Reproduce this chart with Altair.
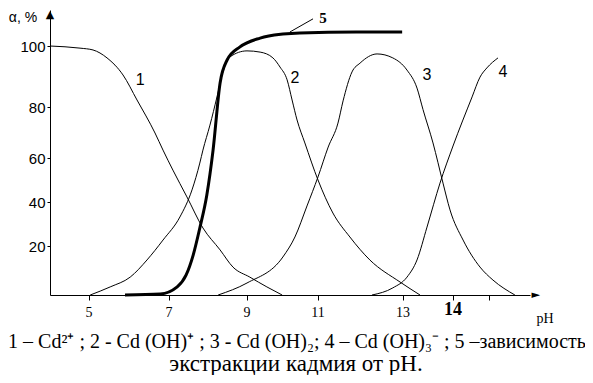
import altair as alt
import pandas as pd

# ---- data (pH, alpha %) ----
c1_x = [4.0, 4.77, 5.1, 5.45, 5.85, 6.2, 6.65, 6.85, 7.1, 7.46, 7.87, 8.31, 8.64, 9.08, 9.56, 9.99]
c1_y = [100, 99.3, 98.7, 96.1, 90.5, 82.3, 69.8, 63.1, 54.5, 42.3, 28.2, 18.4, 11.4, 7.3, 3.3, 0]

c2_x = [5.03, 5.53, 6.03, 6.45, 6.85, 7.28, 7.59, 7.79, 7.87, 8.05, 8.23, 8.36, 8.56, 9.0, 9.37,
        9.73, 9.93, 10.13, 10.27, 10.41, 10.63, 11.0, 11.35, 11.75, 12.22, 12.93, 13.34]
c2_y = [0, 3.3, 7.3, 14.3, 22.7, 33.2, 45.5, 57.7, 63.1, 72.9, 83.3, 90.5, 96.4, 98.4, 98.0,
        96.1, 93.1, 88.9, 82.3, 74.9, 65.9, 50, 35, 24.1, 14.3, 5.3, 0]

c3_x = [8.26, 9.0, 10.01, 10.35, 10.69, 11.0, 11.24, 11.47, 11.59, 11.8, 11.99, 12.39, 12.76, 13.08,
        13.28, 13.4, 13.6, 13.8, 13.94, 14.28, 14.75, 15.11, 15.72]
c3_y = [0, 4.9, 15.5, 24.1, 38.2, 51.4, 64.3, 73.7, 82.0, 91.5, 94.4, 97.4, 96.1, 92.1,
        86.2, 79.0, 65.9, 48.6, 36.4, 22.7, 11.4, 6.1, 0]

c4_x = [12.27, 12.76, 13.08, 13.28, 13.48, 13.74, 14.0, 14.53, 14.75, 14.94, 15.25]
c4_y = [0, 2.9, 7.3, 14.3, 28.6, 48.6, 64.7, 83.3, 89.8, 92.8, 96.1]

c5_x = [5.9, 6.78, 7.21, 7.44, 7.62, 7.79, 7.97, 8.13, 8.31, 8.49, 8.82, 9.37, 10.01, 10.49, 11.9, 12.98]
c5_y = [0, 0.4, 3.3, 8.2, 16.3, 28.2, 43.2, 63.1, 87.9, 95.4, 99.7, 102.6, 103.9, 104.3, 104.6, 104.6]

label_text = ["1", "2", "3", "4"]
label_x = [6.28, 10.35, 13.48, 15.39]
label_y = [88.9, 89.5, 90.5, 91.5]

x_ticks = [5, 7, 9, 11, 13, 14, 15]
x_tick_labels = ["5", "7", "9", "11", "13"]
x_tick_label_pos = [5, 7, 9, 11, 13]
y_ticks = [20, 40, 60, 80, 100]

# hand-drawn (irregular) axis scales
x_domain = [4, 5, 7, 9, 11, 13, 14, 15, 16.14]
x_range = [0, 39, 119, 197, 268, 353, 403, 439, 480]
y_domain = [0, 20, 40, 60, 80, 100, 111.8]
y_range = [285, 236, 192, 148, 97, 36, 0]

caption1 = "1 – Cd²⁺ ; 2 - Cd (OH)⁺ ; 3 - Cd (OH)₂; 4 – Cd (OH)₃⁻ ; 5 –зависимость"
caption2 = "экстракции кадмия от pH."

rows = []
for name, xs, ys in [("1", c1_x, c1_y), ("2", c2_x, c2_y), ("3", c3_x, c3_y),
                     ("4", c4_x, c4_y), ("5", c5_x, c5_y)]:
    for a, b in zip(xs, ys):
        rows.append({"series": name, "pH": a, "alpha": b})
df = pd.DataFrame(rows)
labels = pd.DataFrame({"t": label_text, "pH": label_x, "alpha": label_y})
lab5 = pd.DataFrame({"t": ["5"], "pH": [11.12], "alpha": [109.3]})
leader = pd.DataFrame({"pH": [10.21], "alpha": [104.6], "pH2": [10.86], "alpha2": [108.9]})
arrows_x = pd.DataFrame({"t": ["►"], "pH": [16.3], "alpha": [0]})
arrows_y = pd.DataFrame({"t": ["▲"], "pH": [4.0], "alpha": [110.3]})
# tick-label rows sit just below the axis (alpha slightly below zero)
xl = pd.DataFrame({"lbl": x_tick_labels, "pos": x_tick_label_pos,
                   "lvl": [-7.4] * len(x_tick_labels)})
xl14 = pd.DataFrame({"lbl": ["14"], "pos": [14], "lvl": [-6.3]})
one = pd.DataFrame({"a": [0]})

xs = alt.Scale(domain=x_domain, range=x_range, nice=False, zero=False)
ys = alt.Scale(domain=y_domain, range=y_range, nice=False, zero=False)

x_axis = alt.Axis(
    values=x_ticks, labels=False, title=None, grid=False,
    domainColor="black", tickColor="black", tickSize=5, domainWidth=1, tickWidth=1,
)
y_axis = alt.Axis(
    values=y_ticks, title=None, grid=False, domainColor="black", tickColor="black",
    tickSize=3, domainWidth=1, tickWidth=1, labelColor="black", labelFont="Liberation Sans",
    labelFontSize=15, labelPadding=2, labelFlush=False, labelOverlap=False,
)

X = alt.X("pH:Q", scale=xs, axis=x_axis)
Y = alt.Y("alpha:Q", scale=ys, axis=y_axis)
Xn = alt.X("pH:Q", scale=xs)
Yn = alt.Y("alpha:Q", scale=ys)
Xp = alt.X("pos:Q", scale=xs)
Yl = alt.Y("lvl:Q", scale=ys)

thin = alt.Chart(df).transform_filter("datum.series != '5'").mark_line(
    color="black", strokeWidth=1, interpolate="monotone"
).encode(x=X, y=Y, detail="series:N")

thick = alt.Chart(df).transform_filter("datum.series == '5'").mark_line(
    color="black", strokeWidth=3, interpolate="monotone"
).encode(x=X, y=Y)

num_labels = alt.Chart(labels).mark_text(
    font="Liberation Sans", fontSize=16, color="black"
).encode(x=Xn, y=Yn, text="t:N")

five = alt.Chart(lab5).mark_text(
    font="Liberation Serif", fontSize=15, fontWeight="bold", color="black"
).encode(x=Xn, y=Yn, text="t:N")

lead = alt.Chart(leader).mark_rule(color="black", strokeWidth=1).encode(
    x=Xn, y=Yn, x2="pH2:Q", y2="alpha2:Q"
)

arrow_x = alt.Chart(arrows_x).mark_text(font="DejaVu Sans", fontSize=11, color="black",
                                        align="center", baseline="middle").encode(
    x=Xn, y=Yn, text="t:N")
arrow_y = alt.Chart(arrows_y).mark_text(font="DejaVu Sans", fontSize=11, color="black",
                                        align="center", baseline="middle").encode(
    x=Xn, y=Yn, text="t:N")

x_labels = alt.Chart(xl).mark_text(font="Liberation Serif", fontSize=14, color="black",
                                   baseline="middle", align="center").encode(
    x=Xp, y=Yl, text="lbl:N")
x_label14 = alt.Chart(xl14).mark_text(font="Liberation Serif", fontSize=18, fontWeight="bold",
                                      color="black", baseline="middle", align="center").encode(
    x=Xp, y=Yl, text="lbl:N")

alpha_t = alt.Chart(one).mark_text(text="α, %", font="Liberation Sans", fontSize=14,
                                   color="black").encode(x=alt.value(-27), y=alt.value(8))
ph_t = alt.Chart(one).mark_text(text="pH", font="Liberation Serif", fontSize=14,
                                color="black", baseline="middle").encode(
    x=alt.value(495), y=alt.value(309))
cap1 = alt.Chart(one).mark_text(text=caption1, font="Liberation Serif", fontSize=20,
                                color="black", baseline="alphabetic").encode(
    x=alt.value(247), y=alt.value(338))
cap2 = alt.Chart(one).mark_text(text=caption2, font="Liberation Serif", fontSize=23,
                                color="black", baseline="alphabetic").encode(
    x=alt.value(246), y=alt.value(361))

chart = alt.layer(
    thin, thick, num_labels, five, lead, arrow_x, arrow_y, x_labels, x_label14,
    alpha_t, ph_t, cap1, cap2
).properties(
    width=480, height=285,
    autosize=alt.AutoSizeParams(type="none"),
    padding={"left": 42, "top": 2, "right": 55, "bottom": 80},
    background="white",
).configure_view(stroke=None)

chart.save("out.html", embed_options={"renderer": "svg", "actions": False})
